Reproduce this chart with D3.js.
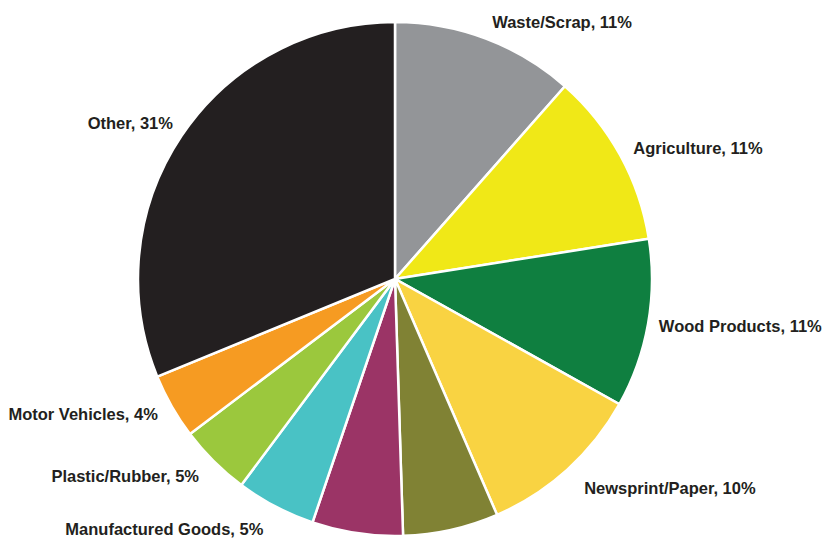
<!DOCTYPE html>
<html><head><meta charset="utf-8">
<script src="https://cdn.jsdelivr.net/npm/d3@7"></script>
<style>body{margin:0;background:#fff}</style></head>
<body><div id="chart"></div>
<script>
const categories = ['Waste/Scrap','Agriculture','Wood Products','Newsprint/Paper','Unlabeled A','Unlabeled B','Manufactured Goods','Plastic/Rubber','Motor Vehicles','Other'];
const values = [11.5, 11, 10.6, 10.4, 6, 5.7, 5, 4.5, 4.1, 31.2];
const labels = ['Waste/Scrap, 11%','Agriculture, 11%','Wood Products, 11%','Newsprint/Paper, 10%','','','Manufactured Goods, 5%','Plastic/Rubber, 5%','Motor Vehicles, 4%','Other, 31%'];
const colors = ['#939598','#f0e817','#0f7f40','#f9d342','#808234','#9b3466','#49c2c5','#9bc83d','#f69b22','#231f20'];

const width = 830, height = 542, cx = 395, cy = 279, r = 257;
const svg = d3.select('#chart').append('svg').attr('width', width).attr('height', height);
const g = svg.append('g').attr('transform', `translate(${cx},${cy})`);

const pie = d3.pie().value(d => d).sort(null);
const arcs = pie(values);
const arc = d3.arc().innerRadius(0).outerRadius(r);

g.selectAll('path').data(arcs).enter().append('path')
  .attr('d', arc)
  .attr('fill', (d, i) => colors[i])
  .attr('stroke', '#fff').attr('stroke-width', 2.5);

// label angle: slice middle, except Other which sits higher
const labelAngle = (d, i) => i === 9 ? d.startAngle + (d.endAngle - d.startAngle) * 0.51 : (d.startAngle + d.endAngle) / 2;
const lr = [275, 272, 268, 282, 0, 0, 283, 278, 273, 271];

g.selectAll('text').data(arcs).enter().append('text')
  .filter((d, i) => labels[i] !== '')
  .attr('x', d => { const i = d.index; return lr[i] * Math.sin(labelAngle(d, i)); })
  .attr('y', d => { const i = d.index; return -lr[i] * Math.cos(labelAngle(d, i)); })
  .attr('dy', '0.35em')
  .attr('text-anchor', d => Math.sin(labelAngle(d, d.index)) >= 0 ? 'start' : 'end')
  .attr('font-family', 'Liberation Sans, Arial, sans-serif')
  .attr('font-weight', 'bold').attr('font-size', 16.5).attr('fill', '#231f20')
  .text(d => labels[d.index]);
</script></body></html>
